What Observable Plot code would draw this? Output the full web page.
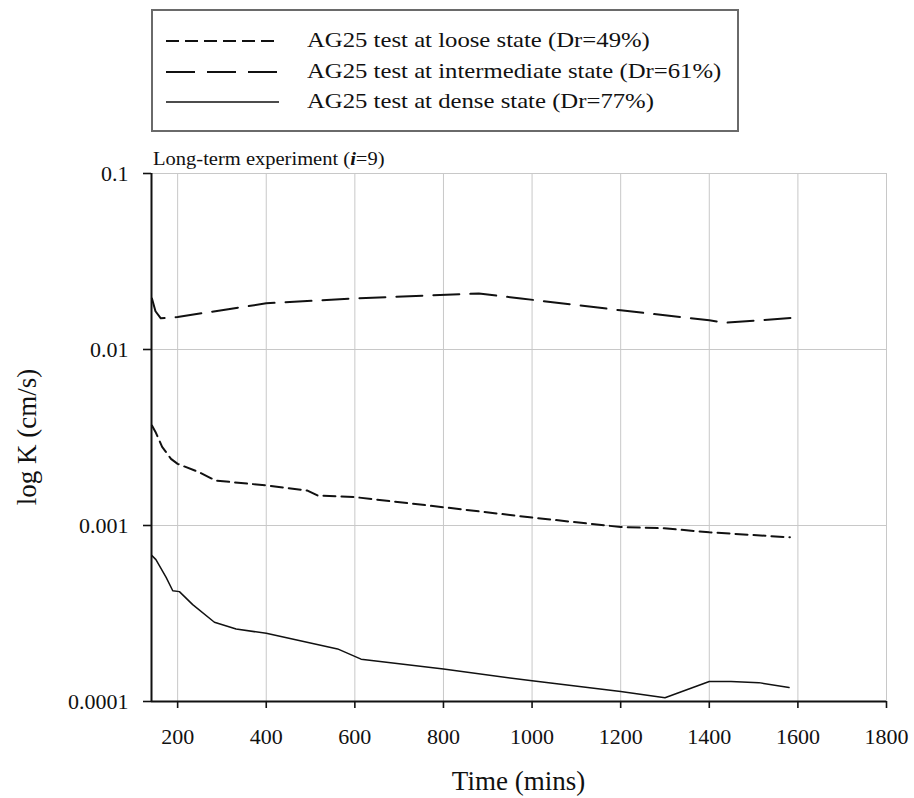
<!DOCTYPE html>
<html>
<head>
<meta charset="utf-8">
<script src="https://cdn.jsdelivr.net/npm/d3@7"></script>
<script src="https://cdn.jsdelivr.net/npm/@observablehq/plot@0.6"></script>
<style>
  html, body { margin: 0; padding: 0; background: #ffffff; }
  #wrap { position: relative; width: 914px; height: 798px; font-family: "Liberation Serif", "Times New Roman", serif; color: #111; }
  #legend { position: absolute; left: 151px; top: 9px; width: 584px; height: 119px; border: 2px solid #6a6a6a; box-sizing: content-box; }
  .row { position: absolute; left: 0; height: 22px; }
  .row svg { position: absolute; left: 12px; top: 0; }
  .row span { position: absolute; left: 154px; top: 0; font-family: "Liberation Serif", serif; font-size: 21.5px; line-height: 1; white-space: nowrap; transform: scaleX(1.15); transform-origin: 0 0; }
  #title { position: absolute; left: 153px; top: 149px; font-family: "Liberation Serif", serif; font-size: 19px; line-height: 1; white-space: nowrap; transform: scaleX(1.08); transform-origin: 0 0; }
  #xlabel { position: absolute; left: 151px; width: 735px; top: 768px; text-align: center; font-size: 27px; line-height: 1; }
  #ylabel { position: absolute; left: 27px; top: 437px; font-size: 27px; line-height: 1; white-space: nowrap; transform: translate(-50%, -50%) rotate(-90deg); }
  #chart { position: absolute; left: 0; top: 140px; }
  #chart svg, #chart svg text { font-family: "Liberation Serif", "Times New Roman", serif !important; }
</style>
</head>
<body>
<div id="wrap">
  <div id="legend"></div>
  <div id="title">Long-term experiment (<b><i>i</i></b>=9)</div>
  <div id="chart"></div>
  <div id="xlabel">Time (mins)</div>
  <div id="ylabel">log K (cm/s)</div>
</div>
<script>
// ---- data ----
const seriesNames = [
  "AG25 test at loose state (Dr=49%)",
  "AG25 test at intermediate state (Dr=61%)",
  "AG25 test at dense state (Dr=77%)"
];
const xTicks = [200, 400, 600, 800, 1000, 1200, 1400, 1600, 1800];
const yTicks = [0.0001, 0.001, 0.01, 0.1];
const yTickLabels = ["0.0001", "0.001", "0.01", "0.1"];

// loose state (Dr=49%)
const looseTime = [142, 150, 165, 185, 200, 248, 286, 400, 493, 516, 600, 800, 1000, 1200, 1298, 1400, 1582];
const looseK    = [0.0037, 0.0034, 0.0028, 0.00239, 0.00224, 0.00201, 0.0018, 0.00169, 0.00158, 0.00148, 0.00145, 0.00127, 0.00111, 0.00098, 0.000964, 0.000915, 0.000857];

// intermediate state (Dr=61%)
const interTime = [142, 150, 162, 200, 400, 600, 880, 975, 1200, 1400, 1437, 1600];
const interK    = [0.0195, 0.0165, 0.01503, 0.0153, 0.0183, 0.0195, 0.0208, 0.0195, 0.0167, 0.01465, 0.0142, 0.0152];

// dense state (Dr=77%)
const denseTime = [142, 151, 174, 189, 204, 234, 283, 332, 400, 561, 614, 800, 1000, 1200, 1300, 1400, 1449, 1512, 1580];
const denseK    = [0.000674, 0.00064, 0.000507, 0.000426, 0.000421, 0.000355, 0.000282, 0.000258, 0.000244, 0.000199, 0.000174, 0.000153, 0.000131, 0.000114, 0.000105, 0.00013, 0.00013, 0.000128, 0.00012];

const toRows = (t, k) => t.map((d, i) => ({time: d, K: k[i]}));
const loose = toRows(looseTime, looseK);
const inter = toRows(interTime, interK);
const dense = toRows(denseTime, denseK);

const dashes = ["12,6", "26,11", null];
const widths = [2, 2, 1.5];
const serif = '"Liberation Serif", "Times New Roman", serif';

// ---- legend ----
const legend = document.getElementById("legend");
const rowTops = [19, 50, 80];
seriesNames.forEach((name, i) => {
  const row = document.createElement("div");
  row.className = "row";
  row.style.top = rowTops[i] + "px";
  row.style.width = "584px";
  const ns = "http://www.w3.org/2000/svg";
  const svg = document.createElementNS(ns, "svg");
  svg.setAttribute("width", "115"); svg.setAttribute("height", "22");
  const ln = document.createElementNS(ns, "line");
  ln.setAttribute("x1", "1"); ln.setAttribute("x2", "114");
  ln.setAttribute("y1", "11"); ln.setAttribute("y2", "11");
  ln.setAttribute("stroke", "#111"); ln.setAttribute("stroke-width", widths[i]);
  if (dashes[i]) ln.setAttribute("stroke-dasharray", i === 0 ? "13,6" : "29,12");
  svg.appendChild(ln);
  row.appendChild(svg);
  const sp = document.createElement("span");
  sp.textContent = name;
  row.appendChild(sp);
  legend.appendChild(row);
});

// ---- chart ----
const chart = Plot.plot({
  width: 914,
  height: 658,
  marginTop: 33,
  marginBottom: 97,
  marginLeft: 151,
  marginRight: 28,
  style: {fontFamily: serif, fontSize: "22px", background: "transparent", color: "#111"},
  x: {domain: [141, 1800], label: null},
  y: {type: "log", domain: [0.0001, 0.1], label: null},
  marks: [
    Plot.gridX(xTicks, {stroke: "#c8c8c8", strokeOpacity: 1, strokeWidth: 1}),
    Plot.gridY(yTicks, {stroke: "#c8c8c8", strokeOpacity: 1, strokeWidth: 1}),
    Plot.axisX(xTicks, {tickSize: 7, tickPadding: 20, label: null, stroke: "#111", strokeWidth: 1.6, fontSize: 22, fontFamily: serif, tickFormat: d => String(d)}),
    Plot.axisY(yTicks, {tickSize: 8, tickPadding: 15, label: null, stroke: "#111", strokeWidth: 1.6, fontSize: 22, fontFamily: serif, tickFormat: d => yTickLabels[yTicks.indexOf(d)]}),
    Plot.ruleX([141], {stroke: "#111", strokeWidth: 2}),
    Plot.ruleY([0.0001], {stroke: "#111", strokeWidth: 2}),
    Plot.line(loose, {x: "time", y: "K", stroke: "#111", strokeWidth: widths[0], strokeDasharray: dashes[0]}),
    Plot.line(inter, {x: "time", y: "K", stroke: "#111", strokeWidth: widths[1], strokeDasharray: dashes[1]}),
    Plot.line(dense, {x: "time", y: "K", stroke: "#111", strokeWidth: widths[2]})
  ]
});
document.getElementById("chart").appendChild(chart);
</script>
</body>
</html>
